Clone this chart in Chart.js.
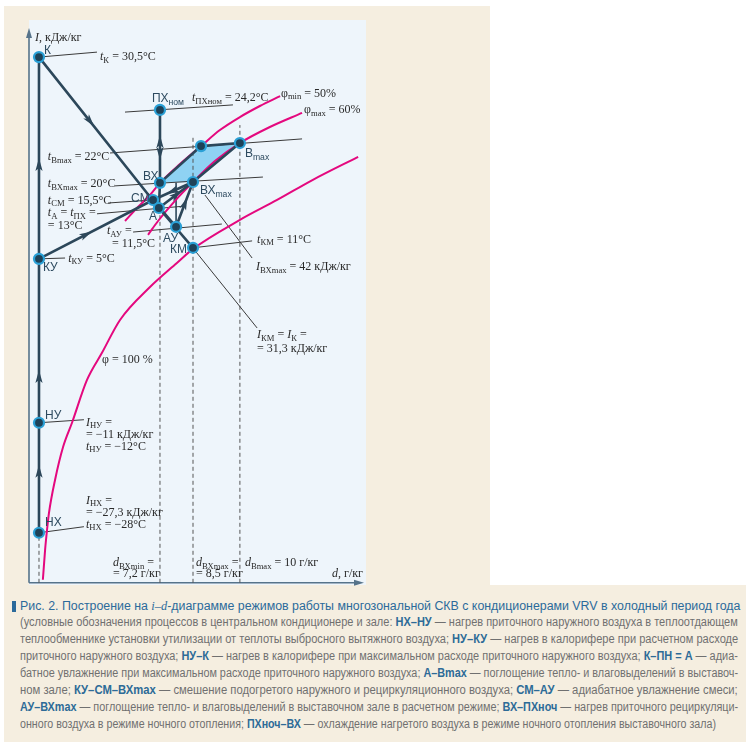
<!DOCTYPE html>
<html><head><meta charset="utf-8">
<script src="https://cdn.jsdelivr.net/npm/chart.js@4.4.1/dist/chart.umd.min.js"></script>
<style>
html,body{margin:0;padding:0;background:#fff;}
#page{position:relative;width:746px;height:748px;overflow:hidden;background:#fff;}
#beigeTop{position:absolute;left:4px;top:6px;width:486px;height:582px;background:#f5eee0;}
#plotBg{position:absolute;left:29px;top:20px;width:337px;height:566px;background:#eef5fb;}
#cap{position:absolute;left:4px;top:585px;width:742px;height:157px;background:#f5eee0;}
#bar{position:absolute;left:12px;top:601px;width:4px;height:11px;background:#2b6a9b;}
canvas{position:absolute;left:0;top:0;}
.ln{position:absolute;left:20px;white-space:nowrap;font-family:"Liberation Sans Narrow","Liberation Sans",Arial,sans-serif;font-size:12.5px;color:#707070;transform-origin:0 50%;line-height:14px;}
.ln b{color:#2d6b97;font-weight:bold;}
.ln.t{color:#2b6a9b;}
.ln i{font-family:"Liberation Serif",serif;}
</style></head>
<body><div id="page">
<div id="beigeTop"></div><div id="plotBg"></div><div id="cap"></div><div id="bar"></div>
<canvas id="c" width="490" height="590"></canvas>
<div class="ln t" data-w="720" style="top:599px">Рис. 2. Построение на <i>i–d</i>-диаграмме режимов работы многозональной СКВ с кондиционерами VRV в холодный период года</div>
<div class="ln" data-w="718" style="top:615px">(условные обозначения процессов в центральном кондиционере и зале: <b>НХ–НУ</b> — нагрев приточного наружного воздуха в теплоотдающем</div>
<div class="ln" data-w="718" style="top:632px">теплообменнике установки утилизации от теплоты выбросного вытяжного воздуха; <b>НУ–КУ</b> — нагрев в калорифере при расчетном расходе</div>
<div class="ln" data-w="718" style="top:649px">приточного наружного воздуха; <b>НУ–К</b> — нагрев в калорифере при максимальном расходе приточного наружного воздуха; <b>К–ПН = А</b> — адиа-</div>
<div class="ln" data-w="718" style="top:666px">батное увлажнение при максимальном расходе приточного наружного воздуха; <b>А–Bmax</b> — поглощение тепло- и влаговыделений в выставоч-</div>
<div class="ln" data-w="718" style="top:683px">ном зале; <b>КУ–СМ–ВХmax</b> — смешение подогретого наружного и рециркуляционного воздуха; <b>СМ–АУ</b> — адиабатное увлажнение смеси;</div>
<div class="ln" data-w="718" style="top:700px"><b>АУ–ВХmax</b> — поглощение тепло- и влаговыделений в выставочном зале в расчетном режиме; <b>ВХ–ПХноч</b> — нагрев приточного рециркуляци-</div>
<div class="ln" data-w="696" style="top:717px">онного воздуха в режиме ночного отопления; <b>ПХноч–ВХ</b> — охлаждение нагретого воздуха в режиме ночного отопления выставочного зала)</div>
</div>
<script>
// ---------- DATA (schematic diagram units: d along x, enthalpy position along y) ----------
const pointNames = ['К','ПХном','ВХ','В50','Bmax','ВХmax','СМ','А','АУ','КМ','КУ','НУ','НХ'];
const pointD     = [0.36, 4.72, 4.72, 6.20, 7.60, 5.91, 4.47, 4.68, 5.30, 5.91, 0.36, 0.36, 0.36];
const pointI     = [19.02,17.11,14.47,15.80,15.91,14.50,13.85,13.56,12.88,12.12,11.72,5.79, 1.81];

const phi100D = [0.50,0.58,0.65,0.72,0.94,1.23,1.55,2.09,2.63,3.28,4.36,5.33,5.91,7.60,8.94,10.23,11.86];
const phi100I = [0.11,1.19,1.92,2.53,3.73,4.92,5.79,7.34,8.32,9.51,10.70,11.57,12.08,13.13,13.85,14.58,15.41];
const phi50D  = [3.46,3.89,4.36,4.72,5.44,6.20,6.88,7.60,8.32,9.05];
const phi50I  = [13.09,13.56,14.03,14.47,15.15,15.80,16.38,16.85,17.25,17.61];
const phi60D  = [4.29,4.65,5.26,5.91,6.70,7.60,8.68,9.84];
const phi60I  = [12.59,13.09,13.82,14.50,15.26,15.91,16.49,17.00];

const processPaths = [
  ['НХ','НУ','КУ','К'], ['К','А','КМ'], ['КУ','СМ','ВХmax'], ['СМ','АУ'],
  ['АУ','ВХmax'], ['А','ВХmax'], ['ПХном','ВХ','А'], ['ВХ','В50','Bmax','ВХmax']
];
const comfortZone = ['ВХ','В50','Bmax','ВХmax','ВХ'];

// thin isotherms and leader lines: [start, end]
const thinLineD = [[0.36,2.45],[3.46,7.35],[2.92,9.84],[3.10,8.43],[2.85,4.43],[2.45,5.62],[3.75,6.95],[0.36,1.30],[5.91,8.04],[0.36,1.98],[0.36,1.98],[6.34,8.04],[6.02,8.22],[5.30,5.30]];
const thinLineI = [[19.02,19.20],[17.03,17.29],[15.55,16.06],[14.36,14.68],[13.74,13.85],[13.35,13.63],[12.69,12.98],[11.72,11.75],[12.12,12.37],[5.79,5.90],[1.81,2.03],[14.03,11.75],[11.97,9.22],[12.88,14.47]];

const dashD    = [0.36, 4.72, 5.91, 7.60];
const dashTopI = [1.81, 13.30, 16.13, 16.56];

const arrowFrom = ['НХ','НУ','КУ','К','КУ','ВХmax','ВХ','ПХном','А','АУ'];
const arrowTo   = ['НУ','КУ','К','А','СМ','СМ','ПХном','ВХ','ВХmax','ВХmax'];
const arrowAt   = [0.60,0.31,0.49,0.45,0.45,0.62,0.63,0.66,0.62,0.62];

// annotation texts: *x* italic, _{..} subscript
const noteText = ['*I*, кДж/кг','*t*_{К} = 30,5°С','*t*_{ПХном} = 24,2°С','φ_{min} = 50%','φ_{max} = 60%',
  '*t*_{Bmax} = 22°С','*t*_{ВХmax} = 20°С','*t*_{СМ} = 15,5°С','*t*_{А} = *t*_{ПХ} =','= 13°С',
  '*t*_{АУ} =','= 11,5°С','*t*_{КУ} = 5°С','*t*_{КМ} = 11°С','*I*_{ВХmax} = 42 кДж/кг',
  '*I*_{КМ} = *I*_{К} =','= 31,3 кДж/кг','φ = 100 %','*I*_{НУ} =','= −11 кДж/кг','*t*_{НУ} = −12°С',
  '*I*_{НХ} =','= −27,3 кДж/кг','*t*_{НХ} = −28°С','*d*_{ВХmin} =','= 7,2 г/кг','*d*_{ВХmax} =','= 8,5 г/кг',
  '*d*_{Bmax} = 10 г/кг','*d*, г/кг'];
const noteD = [0.22,2.56,5.87,9.08,9.91,0.68,0.68,0.68,0.68,0.68,2.81,2.99,1.41,8.22,8.18,8.22,8.22,2.63,2.05,2.05,2.05,2.05,2.05,2.05,3.03,3.03,6.02,6.02,7.78,10.92];
const noteI = [19.71,19.02,17.54,17.69,17.11,15.41,14.43,13.82,13.38,12.91,12.73,12.26,11.72,12.41,11.43,8.97,8.46,8.07,5.79,5.35,4.92,2.97,2.53,2.10,0.72,0.33,0.72,0.33,0.72,0.33];

const tagText = ['К','ПХ_{ном}','ВХ','ВХ_{max}','B_{max}','СМ','А','АУ','КМ','КУ','НУ','НХ'];
const tagD = [0.54,4.43,4.11,6.16,7.78,3.68,4.32,4.83,5.08,0.50,0.58,0.58];
const tagI = [19.24,17.50,14.68,14.18,15.52,13.89,13.24,12.44,12.04,11.39,6.04,2.17];

// ---------- BUILD ----------
const P = {}; pointNames.forEach((n,i)=>P[n]={x:pointD[i],y:pointI[i]});
const DARK='#2c475a', MAG='#e4087e', THIN='#3a3a3a';
const zip=(a,b)=>a.map((v,i)=>({x:v,y:b[i]}));
const ds=[];
ds.push({data:pointNames.map(n=>P[n]),showLine:false,pointRadius:5,pointBorderWidth:2.2,
  pointBackgroundColor:'#1e4258',pointBorderColor:'#2aa0d6',order:0,clip:false});
processPaths.forEach(p=>ds.push({data:p.map(n=>P[n]),showLine:true,borderColor:DARK,borderWidth:2.6,pointRadius:0,order:1,clip:false,borderCapStyle:'round',borderJoinStyle:'round'}));
[[phi100D,phi100I],[phi50D,phi50I],[phi60D,phi60I]].forEach(([a,b])=>ds.push({data:zip(a,b),showLine:true,borderColor:MAG,borderWidth:2,pointRadius:0,cubicInterpolationMode:'monotone',order:3,clip:false}));
thinLineD.forEach((d,i)=>ds.push({data:zip(d,thinLineI[i]),showLine:true,borderColor:i===13?DARK:THIN,borderWidth:i===13?1.6:1,pointRadius:0,order:4,clip:false}));
dashD.forEach((d,i)=>ds.push({data:[{x:d,y:0},{x:d,y:dashTopI[i]}],showLine:true,borderColor:'#555',borderWidth:1,borderDash:[4,3],pointRadius:0,order:5,clip:false}));
ds.push({data:comfortZone.map(n=>P[n]),showLine:true,fill:'shape',backgroundColor:'#8fd2f3',borderWidth:0,pointRadius:0,order:6,clip:false});

function drawRich(ctx,str,x,y,fam,size,color){
  const segs=[];let i=0,it=false;
  while(i<str.length){
    if(str[i]==='*'){it=!it;i++;continue;}
    if(str[i]==='_'&&str[i+1]==='{'){const j=str.indexOf('}',i);segs.push({t:str.slice(i+2,j),it:false,sub:true});i=j+1;continue;}
    let j=i;while(j<str.length&&str[j]!=='*'&&!(str[j]==='_'&&str[j+1]==='{'))j++;
    segs.push({t:str.slice(i,j),it:it,sub:false});i=j;
  }
  ctx.fillStyle=color;ctx.textBaseline='middle';ctx.textAlign='left';
  let cx=x;
  segs.forEach(s=>{
    const sz=s.sub?size*0.72:size;
    ctx.font=(s.it?'italic ':'')+sz+'px '+fam;
    ctx.fillText(s.t,cx,s.sub?y+size*0.28:y);
    cx+=ctx.measureText(s.t).width;
  });
}

const overlay={id:'overlay',
  beforeDatasetsDraw(chart){
    const ctx=chart.ctx,xs=chart.scales.x,ys=chart.scales.y;
    const x0=xs.getPixelForValue(0),y0=ys.getPixelForValue(0),x1=xs.getPixelForValue(xs.max),y1=ys.getPixelForValue(ys.max);
    ctx.save();ctx.strokeStyle='#56738a';ctx.fillStyle='#56738a';ctx.lineWidth=1.6;
    ctx.beginPath();ctx.moveTo(x0,y0);ctx.lineTo(x0,y1+4);ctx.moveTo(x0,y0);ctx.lineTo(x1-4,y0);ctx.stroke();
    ctx.beginPath();ctx.moveTo(x0,y1-2);ctx.lineTo(x0-3,y1+8);ctx.lineTo(x0+3,y1+8);ctx.closePath();ctx.fill();
    ctx.beginPath();ctx.moveTo(x1+2,y0);ctx.lineTo(x1-8,y0-3);ctx.lineTo(x1-8,y0+3);ctx.closePath();ctx.fill();
    ctx.restore();
  },
  afterDatasetsDraw(chart){
    const ctx=chart.ctx,xs=chart.scales.x,ys=chart.scales.y;
    const px=p=>({x:xs.getPixelForValue(p.x),y:ys.getPixelForValue(p.y)});
    ctx.save();ctx.fillStyle=DARK;
    arrowFrom.forEach((f,i)=>{
      const a=px(P[f]),b=px(P[arrowTo[i]]),t=arrowAt[i];
      const tx=a.x+(b.x-a.x)*t,ty=a.y+(b.y-a.y)*t,ang=Math.atan2(b.y-a.y,b.x-a.x);
      ctx.save();ctx.translate(tx,ty);ctx.rotate(ang);
      ctx.beginPath();ctx.moveTo(2,0);ctx.lineTo(-11,-3.6);ctx.lineTo(-8,0);ctx.lineTo(-11,3.6);ctx.closePath();ctx.fill();
      ctx.restore();
    });
    noteText.forEach((s,i)=>{const p=px({x:noteD[i],y:noteI[i]});drawRich(ctx,s,p.x,p.y,'"Liberation Serif","Times New Roman",serif',12,'#2a2a2a');});
    tagText.forEach((s,i)=>{const p=px({x:tagD[i],y:tagI[i]});drawRich(ctx,s,p.x,p.y,'"Liberation Sans",Arial,sans-serif',12,'#2d4a5f');});
    ctx.restore();
  }
};

new Chart(document.getElementById('c'),{
  type:'scatter',
  data:{datasets:ds},
  options:{responsive:false,animation:false,events:[],
    layout:{padding:{left:29,right:128,top:30,bottom:7}},
    scales:{x:{type:'linear',min:0,max:12,display:false},y:{type:'linear',min:0,max:20,display:false}},
    plugins:{legend:{display:false},tooltip:{enabled:false}}},
  plugins:[overlay]
});

function fit(){document.querySelectorAll('.ln').forEach(el=>{el.style.transform='none';const w=el.offsetWidth;el.style.transform='scaleX('+(parseFloat(el.dataset.w)/w)+')';});}
fit(); if(document.fonts&&document.fonts.ready)document.fonts.ready.then(fit);
</script>
</body></html>
